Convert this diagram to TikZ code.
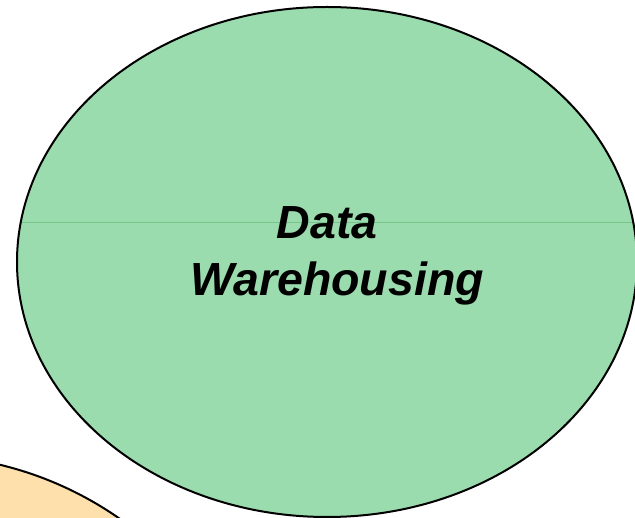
\documentclass[tikz,border=0pt]{standalone}
\usepackage{fontspec}
\setmainfont{Liberation Sans}
\usepackage{tikz}
\usetikzlibrary{positioning}

\definecolor{dwgreen}{RGB}{155,220,175}
\definecolor{dwrule}{RGB}{118,198,140}
\definecolor{dworange}{RGB}{253,224,172}

\begin{document}
\begin{tikzpicture}[x=1pt,y=-1pt,
	bubble/.style={draw=black,line width=2pt},
	title/.style={inner sep=0pt,anchor=base,font=\fontsize{46.5}{56}\selectfont\bfseries\itshape}]
				\useasboundingbox (0,0) rectangle (635,518);
				
				% lower left topic, only its rim shows
				\draw[bubble,fill=dworange] (-83,809) ellipse [x radius=354,y radius=354];
				
				% main topic
				\fill[dwgreen] (327,262) ellipse [x radius=310,y radius=255];
				\begin{scope}
					\clip (327,262) ellipse [x radius=310,y radius=255];
					\draw[dwrule,line width=0.8pt] (0,222) -- (640,222);
				\end{scope}
				\draw[bubble] (327,262) ellipse [x radius=310,y radius=255];
				
				\node[title] (data) at (327,239) {Data};
				\node[title] (wh) at (337,296) {Warehousing};
			\end{tikzpicture}
\end{document}
